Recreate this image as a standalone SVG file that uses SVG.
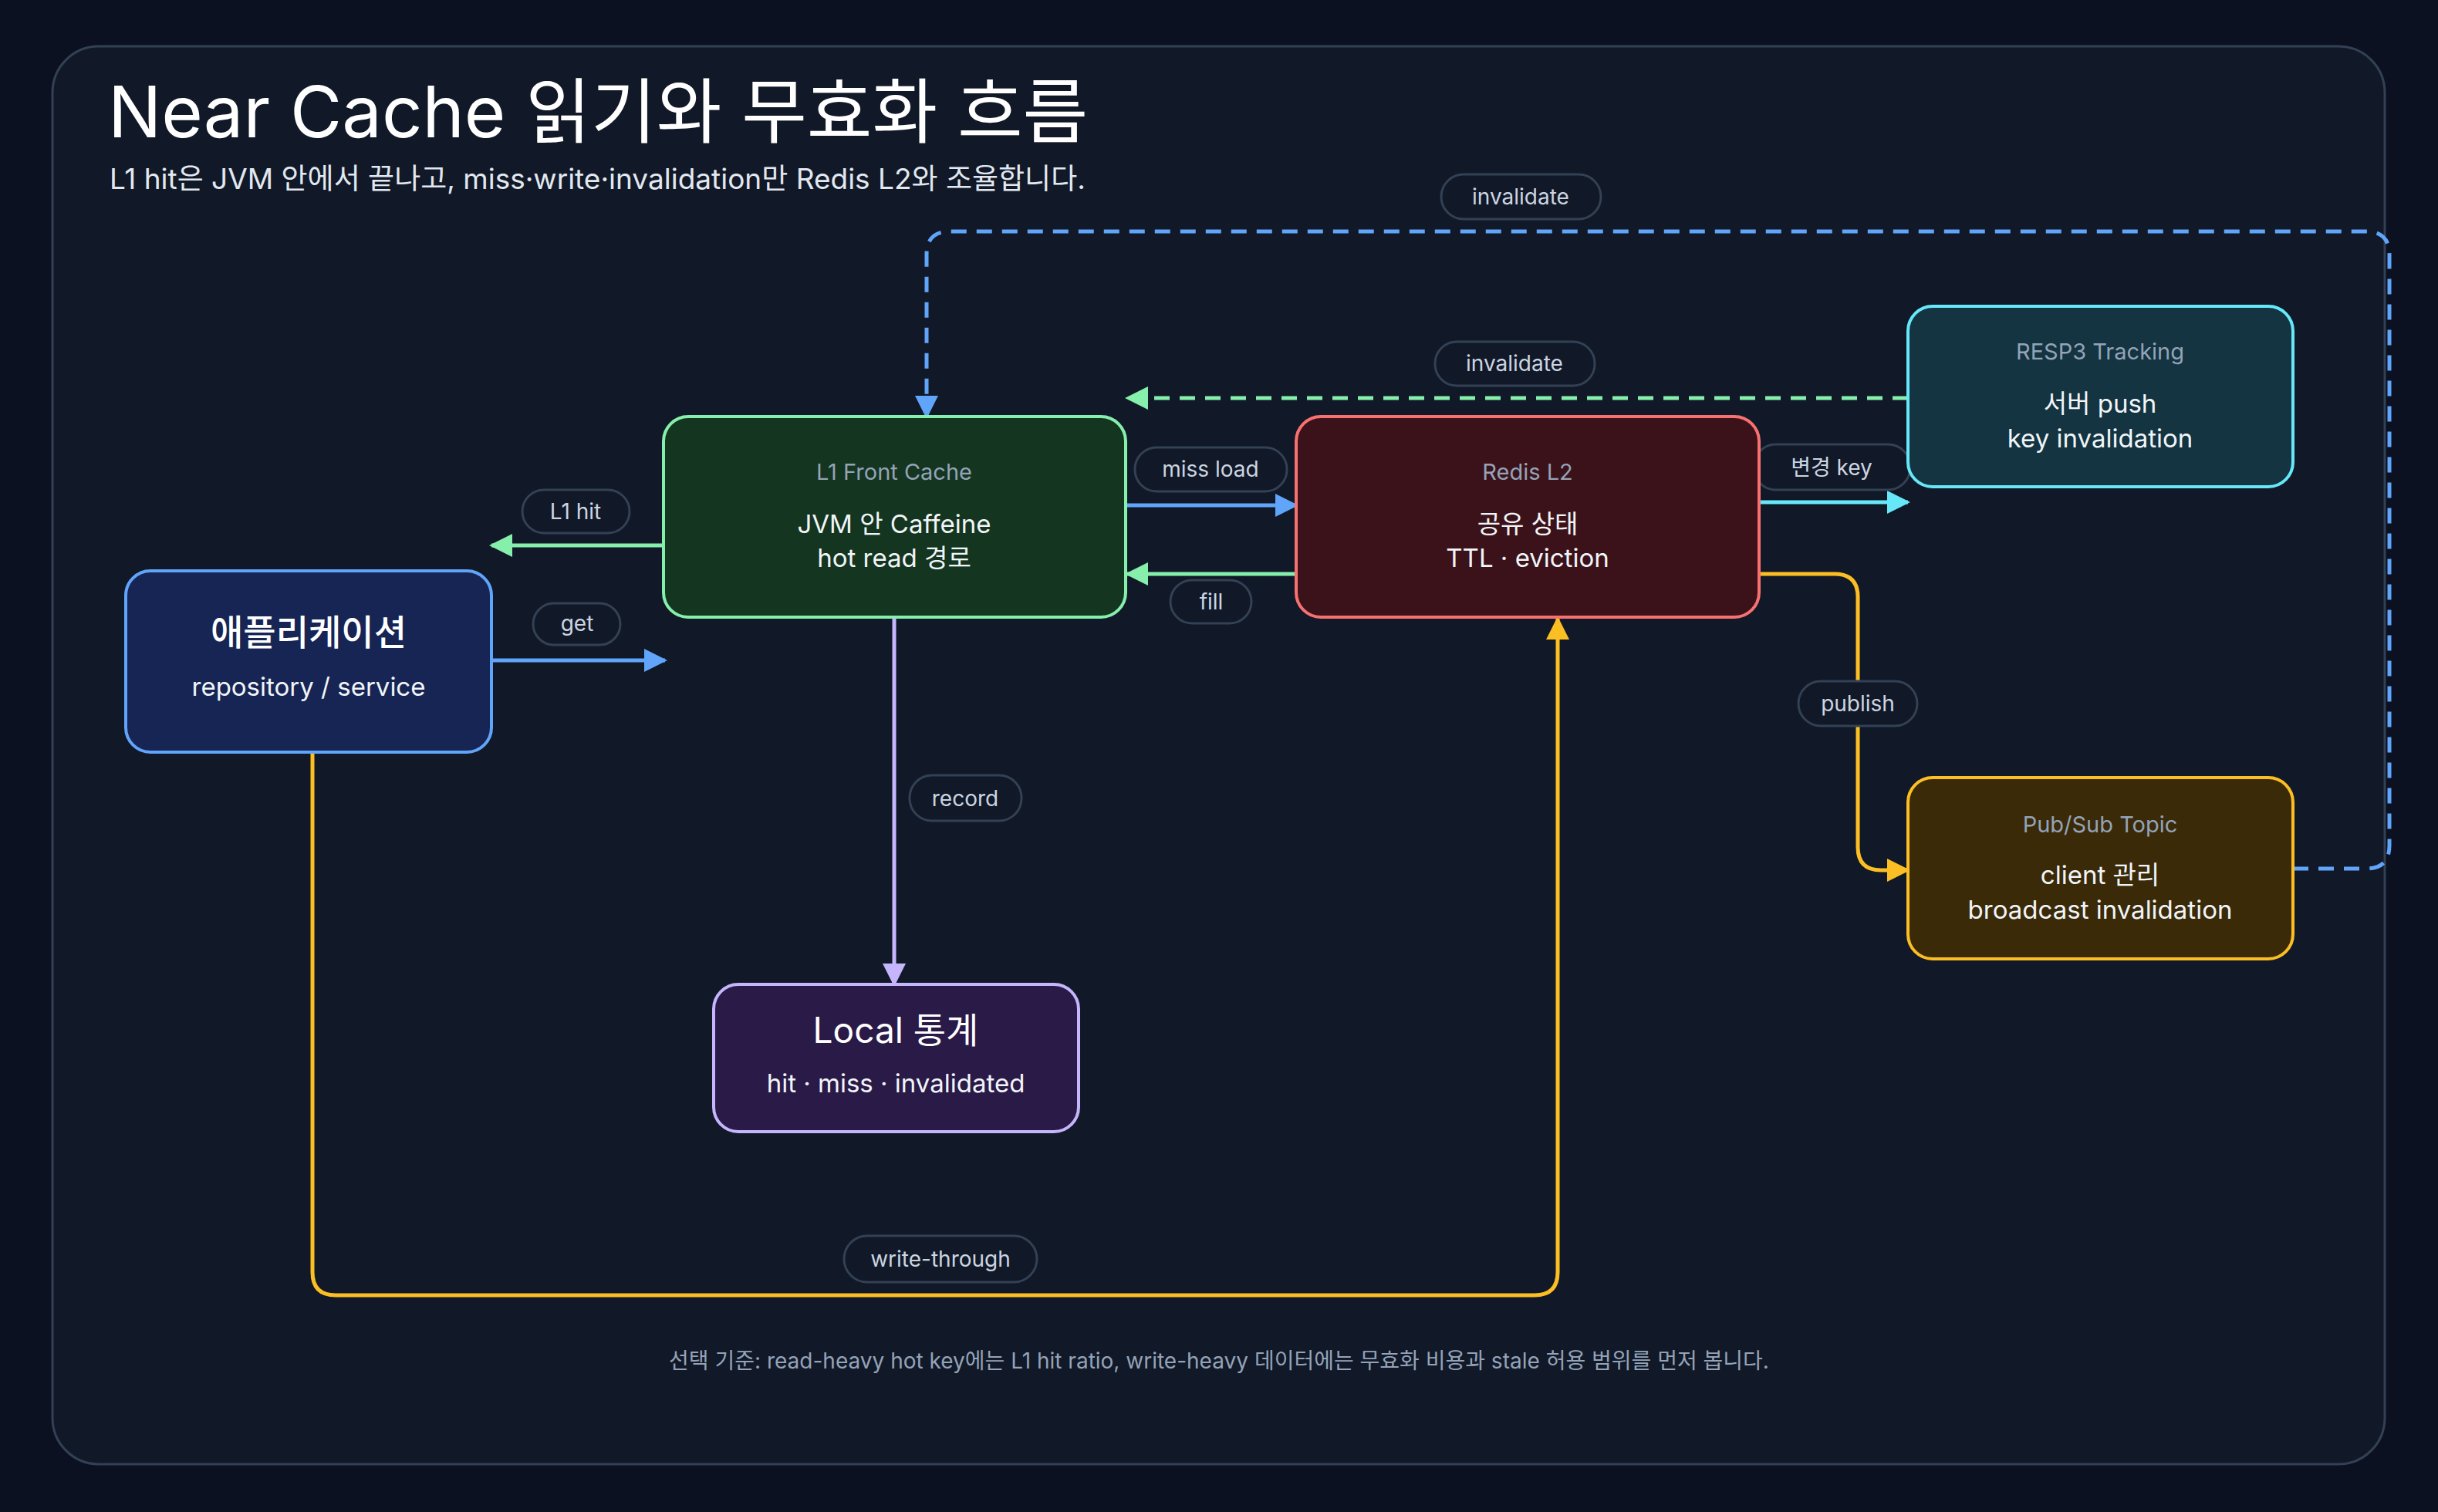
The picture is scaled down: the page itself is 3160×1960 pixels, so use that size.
<svg xmlns="http://www.w3.org/2000/svg" width="3160" height="1960" viewBox="0 0 3160 1960">
<defs>
<style>
text{font-family:Inter,"Noto Sans CJK KR",sans-serif;text-anchor:middle}
.node{stroke-width:4}
.cap{font-size:29px;fill:#94a3b8}
.body{font-size:33px;fill:#f1f5f9}
.big{font-size:46px;fill:#ffffff;font-weight:500}
.pill rect{fill:#111827;stroke:#334155;stroke-width:3}
.pill text{font-size:28px;fill:#cbd5e1}
.c{fill:none;stroke-width:5;stroke-linejoin:round}
.dash{stroke-dasharray:20 13}
</style>
<marker id="aG" viewBox="0 0 10 10" refX="9" refY="5" markerWidth="6" markerHeight="6" markerUnits="strokeWidth" orient="auto"><path d="M0,0L10,5L0,10z" fill="#86efac"/></marker>
<marker id="aB" viewBox="0 0 10 10" refX="9" refY="5" markerWidth="6" markerHeight="6" markerUnits="strokeWidth" orient="auto"><path d="M0,0L10,5L0,10z" fill="#60a5fa"/></marker>
<marker id="aP" viewBox="0 0 10 10" refX="9" refY="5" markerWidth="6" markerHeight="6" markerUnits="strokeWidth" orient="auto"><path d="M0,0L10,5L0,10z" fill="#c4b5fd"/></marker>
<marker id="aY" viewBox="0 0 10 10" refX="9" refY="5" markerWidth="6" markerHeight="6" markerUnits="strokeWidth" orient="auto"><path d="M0,0L10,5L0,10z" fill="#fbbf24"/></marker>
<marker id="aC" viewBox="0 0 10 10" refX="9" refY="5" markerWidth="6" markerHeight="6" markerUnits="strokeWidth" orient="auto"><path d="M0,0L10,5L0,10z" fill="#67e8f9"/></marker>
</defs>
<rect width="3160" height="1960" fill="#0b1120"/>
<rect x="68" y="60" width="3023" height="1838" rx="60" fill="#111827" stroke="#334155" stroke-width="3"/>
<text x="140" y="178" style="text-anchor:start;font-size:92px;fill:#ffffff">Near Cache 읽기와 무효화 흐름</text>
<text x="142" y="245" style="text-anchor:start;font-size:37px;fill:#e2e8f0">L1 hit은 JVM 안에서 끝나고, miss·write·invalidation만 Redis L2와 조율합니다.</text>

<g id="connectors">
<path class="c" stroke="#86efac" d="M860,707H637" marker-end="url(#aG)"/>
<path class="c" stroke="#60a5fa" d="M637,856H862" marker-end="url(#aB)"/>
<path class="c" stroke="#60a5fa" d="M1459,655H1680" marker-end="url(#aB)"/>
<path class="c" stroke="#86efac" d="M1680,744H1461" marker-end="url(#aG)"/>
<path class="c" stroke="#c4b5fd" d="M1159,800V1276" marker-end="url(#aP)"/>
<path class="c" stroke="#fbbf24" d="M405,975V1649Q405,1679 435,1679H1989Q2019,1679 2019,1649V802" marker-end="url(#aY)"/>
<path class="c" stroke="#67e8f9" d="M2280,651H2473" marker-end="url(#aC)"/>
<path class="c" stroke="#fbbf24" d="M2280,744H2378Q2408,744 2408,774V1098Q2408,1128 2438,1128H2473" marker-end="url(#aY)"/>
<path class="c dash" stroke="#86efac" d="M2473,516H1461" marker-end="url(#aG)"/>
<path class="c dash" stroke="#60a5fa" d="M2972,1126H3067Q3097,1126 3097,1096V330Q3097,300 3067,300H1231Q1201,300 1201,330V540" marker-end="url(#aB)"/>
<g class="pill"><rect x="677" y="635" width="139" height="56" rx="28"/><text x="746" y="673">L1 hit</text></g>
<g class="pill"><rect x="691" y="782" width="113" height="54" rx="27"/><text x="748" y="818">get</text></g>
<g class="pill"><rect x="1471" y="580" width="197" height="57" rx="28"/><text x="1569" y="618">miss load</text></g>
<g class="pill"><rect x="1517" y="752" width="105" height="56" rx="28"/><text x="1570" y="790">fill</text></g>
<g class="pill"><rect x="1179" y="1005" width="145" height="59" rx="29"/><text x="1251" y="1045">record</text></g>
<g class="pill"><rect x="1094" y="1602" width="250" height="60" rx="30"/><text x="1219" y="1642">write-through</text></g>
<g class="pill"><rect x="2273" y="576" width="203" height="59" rx="29"/><text x="2374" y="616">변경 key</text></g>
<g class="pill"><rect x="2331" y="883" width="154" height="58" rx="29"/><text x="2408" y="922">publish</text></g>
<g class="pill"><rect x="1860" y="443" width="207" height="57" rx="28"/><text x="1963" y="481">invalidate</text></g>
<g class="pill"><rect x="1868" y="226" width="207" height="58" rx="29"/><text x="1971" y="265">invalidate</text></g>
</g>

<g id="app"><rect class="node" x="163" y="740" width="474" height="235" rx="32" fill="#172554" stroke="#60a5fa"/>
<text class="big" x="400" y="836">애플리케이션</text><text class="body" x="400" y="902">repository / service</text></g>
<g id="l1"><rect class="node" x="860" y="540" width="599" height="260" rx="32" fill="#14351f" stroke="#86efac"/>
<text class="cap" x="1159" y="622">L1 Front Cache</text><text class="body" x="1159" y="691">JVM 안 Caffeine</text><text class="body" x="1159" y="735">hot read 경로</text></g>
<g id="redis"><rect class="node" x="1680" y="540" width="600" height="260" rx="32" fill="#3b1219" stroke="#f87171"/>
<text class="cap" x="1980" y="622">Redis L2</text><text class="body" x="1980" y="691">공유 상태</text><text class="body" x="1980" y="735">TTL · eviction</text></g>
<g id="resp3"><rect class="node" x="2473" y="397" width="499" height="234" rx="32" fill="#133440" stroke="#67e8f9"/>
<text class="cap" x="2722" y="466">RESP3 Tracking</text><text class="body" x="2722" y="535">서버 push</text><text class="body" x="2722" y="580">key invalidation</text></g>
<g id="pubsub"><rect class="node" x="2473" y="1008" width="499" height="235" rx="32" fill="#3a2a08" stroke="#fbbf24"/>
<text class="cap" x="2722" y="1079">Pub/Sub Topic</text><text class="body" x="2722" y="1146">client 관리</text><text class="body" x="2722" y="1191">broadcast invalidation</text></g>
<g id="local"><rect class="node" x="925" y="1276" width="473" height="191" rx="32" fill="#2a1a48" stroke="#c4b5fd"/>
<text class="big" x="1161" y="1352" style="font-weight:400">Local 통계</text><text class="body" x="1161" y="1416">hit · miss · invalidated</text></g>

<text x="1580" y="1774" style="font-size:28px;fill:#94a3b8">선택 기준: read-heavy hot key에는 L1 hit ratio, write-heavy 데이터에는 무효화 비용과 stale 허용 범위를 먼저 봅니다.</text>
</svg>
